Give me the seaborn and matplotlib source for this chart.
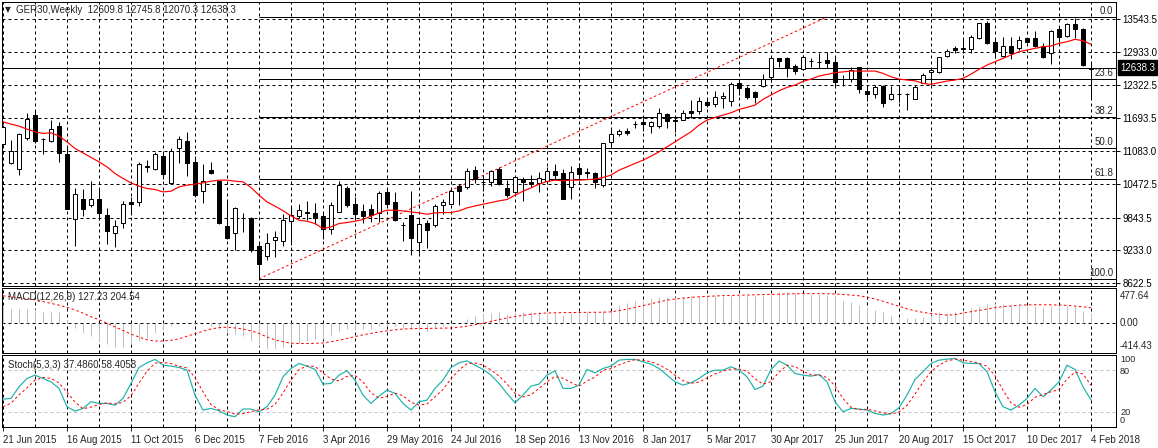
import matplotlib
matplotlib.use("Agg")
import matplotlib.pyplot as plt
import matplotlib.transforms as mtransforms
import numpy as np
import pandas as pd
import seaborn as sns

sns.set_style("white")
plt.rcParams['font.family'] = ['Liberation Sans', 'DejaVu Sans']
plt.rcParams['lines.scale_dashes'] = False
plt.rcParams['font.size'] = 7

# ---------------- data (weekly bars, GER30) ----------------
date_labels = ["21 Jun 2015", "16 Aug 2015", "11 Oct 2015", "6 Dec 2015", "7 Feb 2016",
               "3 Apr 2016", "29 May 2016", "24 Jul 2016", "18 Sep 2016", "13 Nov 2016",
               "8 Jan 2017", "5 Mar 2017", "30 Apr 2017", "25 Jun 2017", "20 Aug 2017",
               "15 Oct 2017", "10 Dec 2017", "4 Feb 2018"]

open_ = [11213, 10865, 10742, 11320, 11754, 11301, 11275, 11549, 11021, 9815,
         10188, 10089, 10188, 9890, 9565, 9740, 10132, 10132, 10813, 10753,
         10990, 10481, 11133, 11270, 10878, 10345, 10729, 10524, 9698, 9565,
         9843, 9847, 9312, 9126, 9437, 9411, 9784, 9884, 9937, 9940,
         9871, 9642, 9952, 10393, 10095, 9965, 10002, 9922, 10319, 10132,
         9704, 9890, 9392, 9754, 9717, 10089, 10108, 10436, 10412, 10729,
         10515, 10511, 10747, 10388, 10324, 10561, 10500, 10492, 10518, 10710,
         10673, 10418, 10761, 10697, 10673, 10444, 11245, 11405, 11461, 11586,
         11618, 11555, 11555, 11767, 11661, 11661, 11829, 11829, 11996, 11953,
         12065, 12009, 12345, 12252, 12177, 12295, 12457, 12811, 12811, 12667,
         12606, 12761, 12748, 12779, 12742, 12425, 12425, 12649, 12201, 12140,
         12300, 12047, 12145, 12151, 12052, 12358, 12550, 12550, 12854, 12997,
         12997, 12979, 13184, 13463, 13109, 12854, 13034, 12997, 13184, 13184,
         13046, 12904, 13352, 13227, 13450, 13357, 12609.8]

high = [11568, 11288, 11419, 11786, 11847, 11325, 11661, 11618, 11163, 10388,
        10369, 10524, 10388, 10026, 9797, 10157, 10220, 10884, 10915, 11070,
        11051, 11145, 11363, 11432, 10990, 10841, 10884, 10543, 10170, 10051,
        9922, 9853, 9392, 9560, 9592, 9909, 10063, 10108, 10151, 10119,
        9952, 10138, 10524, 10431, 10220, 10108, 10095, 10337, 10406, 10313,
        9765, 10337, 9797, 9797, 10095, 10188, 10369, 10462, 10761, 10803,
        10636, 10729, 10779, 10543, 10604, 10593, 10636, 10686, 10790, 10835,
        10742, 10809, 10854, 10761, 10692, 11232, 11506, 11493, 11506, 11648,
        11693, 11648, 11890, 11786, 11722, 11847, 12034, 12084, 12077, 12201,
        12188, 12375, 12388, 12295, 12201, 12518, 12841, 12817, 12830, 12705,
        12867, 12822, 12915, 12934, 12830, 12500, 12654, 12654, 12300, 12313,
        12313, 12300, 12313, 12164, 12313, 12543, 12625, 12836, 12979, 13046,
        13184, 13245, 13475, 13512, 13184, 13214, 13214, 13233, 13194, 13320,
        13091, 13338, 13389, 13475, 13570, 13370, 12745.8]

low = [11176, 10850, 10636, 11288, 11238, 11021, 11245, 10884, 10002, 9318,
       9871, 10045, 9797, 9350, 9300, 9648, 9890, 10058, 10686, 10729,
       10561, 10468, 10865, 10617, 10231, 10126, 10654, 9722, 9456, 9250,
       9579, 9206, 8706, 9064, 9113, 9318, 9344, 9847, 9797, 9735,
       9456, 9549, 9946, 10045, 9829, 9754, 9765, 9765, 10045, 9784,
       9411, 9158, 9187, 9281, 9672, 9909, 10101, 10089, 10369, 10481,
       10343, 10431, 10455, 10231, 10306, 10157, 10418, 10324, 10481, 10561,
       10183, 10183, 10543, 10574, 10388, 10418, 11163, 11363, 11381, 11506,
       11456, 11413, 11506, 11517, 11443, 11655, 11693, 11767, 11898, 11909,
       11879, 11922, 12127, 12052, 11972, 12270, 12375, 12654, 12468, 12518,
       12593, 12654, 12625, 12625, 12282, 12300, 12375, 12170, 12021, 12065,
       11909, 12034, 11991, 11847, 12047, 12345, 12313, 12543, 12830, 12915,
       12915, 12904, 13165, 13078, 12811, 12830, 12792, 12966, 13102, 13027,
       12811, 12705, 13120, 13214, 13184, 12668, 12070.3]

close = [11530, 11089, 11394, 11680, 11275, 11301, 11499, 11040, 10007, 10276,
         10015, 10188, 9922, 9597, 9685, 10108, 10105, 10835, 10794, 11027,
         10660, 11089, 11301, 10854, 10263, 10518, 10679, 9746, 9474, 10033,
         9834, 9238, 8990, 9381, 9486, 9797, 9890, 9978, 9946, 9847,
         9642, 10071, 10449, 10082, 9909, 9871, 9890, 10300, 10095, 9797,
         9704, 9467, 9735, 9616, 10058, 10145, 10337, 10350, 10710, 10556,
         10505, 10710, 10468, 10263, 10593, 10511, 10468, 10574, 10705, 10641,
         10194, 10686, 10649, 10667, 10511, 11227, 11394, 11456, 11413, 11586,
         11592, 11624, 11797, 11648, 11637, 11786, 11797, 12009, 11940, 12095,
         12108, 12326, 12252, 12095, 12084, 12431, 12811, 12766, 12625, 12580,
         12830, 12761, 12748, 12718, 12364, 12425, 12593, 12233, 12140, 12270,
         11983, 12140, 12145, 12140, 12282, 12500, 12593, 12830, 12953, 12966,
         12990, 13202, 13463, 13102, 12953, 13046, 12915, 13152, 13109, 13046,
         12830, 13320, 13214, 13450, 13357, 12686, 12638.3]

ma = [11629, 11586, 11549, 11493, 11443, 11413, 11424, 11363, 11256, 11133,
      11051, 10966, 10884, 10790, 10667, 10574, 10492, 10431, 10388, 10369,
      10324, 10337, 10418, 10449, 10468, 10492, 10524, 10543, 10543, 10524,
      10511, 10406, 10263, 10138, 10058, 9974, 9877, 9797, 9778, 9735,
      9642, 9672, 9735, 9754, 9778, 9810, 9871, 9933, 9983, 9983,
      9970, 9952, 9933, 9909, 9933, 9940, 9940, 9970, 10026, 10063,
      10095, 10127, 10157, 10183, 10263, 10337, 10399, 10468, 10518, 10543,
      10529, 10543, 10543, 10552, 10561, 10593, 10636, 10729, 10790, 10854,
      10915, 10990, 11070, 11163, 11256, 11350, 11443, 11568, 11661, 11711,
      11754, 11797, 11860, 11898, 11940, 12047, 12127, 12207, 12270, 12313,
      12382, 12425, 12481, 12513, 12543, 12559, 12574, 12574, 12574, 12574,
      12531, 12468, 12425, 12407, 12393, 12345, 12326, 12356, 12388, 12407,
      12438, 12518, 12606, 12686, 12748, 12811, 12873, 12934, 12966, 12997,
      13027, 13040, 13091, 13120, 13165, 13139, 13072]

macd_main = [223, 186, 186, 186, 186, 149, 149, 140, 37, -70,
             -140, -186, -256, -302, -335, -335, -302, -256, -209, -140,
             -93, -47, -9, 9, -37, -23, -47, -93, -140, -163,
             -186, -256, -326, -363, -372, -349, -302, -279, -256, -233,
             -233, -177, -130, -93, -93, -84, -84, -47, -47, -47,
             -70, -93, -93, -116, -84, -47, -23, 0, 47, 84,
             116, 126, 140, 116, 140, 140, 140, 140, 126, 126,
             102, 126, 140, 140, 140, 153, 163, 242, 270, 302,
             316, 335, 349, 349, 349, 349, 363, 372, 372, 372,
             372, 372, 372, 372, 372, 381, 395, 419, 409, 405,
             405, 395, 395, 381, 381, 302, 288, 242, 209, 177,
             140, 102, 56, 56, 56, 70, 102, 140, 130, 149,
             172, 200, 223, 256, 270, 256, 242, 233, 223, 223,
             209, 223, 233, 233, 233, 163, 127.23]

macd_signal = [370, 355, 340, 328, 316, 290, 265, 240, 210, 175,
               130, 80, 40, -10, -60, -110, -160, -200, -240, -255,
               -256, -245, -225, -190, -155, -120, -90, -70, -65, -75,
               -90, -115, -150, -200, -240, -265, -285, -290, -290, -288,
               -282, -265, -245, -220, -195, -170, -150, -130, -115, -100,
               -90, -85, -82, -82, -80, -78, -75, -65, -50, -30,
               -10, 15, 40, 65, 85, 100, 115, 125, 132, 135,
               137, 138, 138, 140, 141, 143, 148, 165, 185, 209,
               235, 260, 285, 310, 326, 338, 349, 356, 362, 367,
               372, 375, 378, 381, 384, 386, 390, 393, 396, 398,
               400, 400, 400, 398, 395, 388, 380, 370, 350, 326,
               295, 260, 225, 190, 163, 140, 126, 112, 102, 110,
               130, 150, 168, 186, 205, 220, 230, 240, 244, 246,
               246, 245, 242, 238, 228, 218, 204.54]

stoch_k = [38.7, 39.7, 56, 68, 72.7, 68, 63.3, 53.9, 27.9, 21.7,
           25.5, 35, 32.6, 32.6, 30.2, 39.7, 61, 83.6, 90.2, 95,
           86.9, 85.5, 83.6, 79.8, 44.4, 23.1, 25.5, 22.2, 16.1, 13.7,
           24.6, 24.6, 20.8, 27.9, 44.4, 70.4, 82.2, 89.3, 85.5, 80.8,
           60, 61, 72.7, 78.9, 65.7, 44.4, 32.6, 43, 51.5, 46.8,
           32.6, 23.1, 35, 37.3, 53.9, 65.7, 83.6, 90.2, 93, 86.9,
           80.8, 72.7, 61, 46.8, 33.5, 44.4, 57.2, 60, 72.7, 78.9,
           53.9, 53.9, 58.6, 80.8, 76, 82.2, 85.5, 94, 95, 95,
           91.6, 88.3, 82.2, 72.7, 63.3, 58.6, 61.9, 68, 76, 79.8,
           79.8, 84.6, 79.8, 70.4, 52.4, 57.2, 80.8, 92.6, 86.9, 75.1,
           72.7, 71.3, 73.7, 63.3, 35, 20.8, 25.5, 24.6, 23.1, 18.4,
           16.1, 18.4, 26.5, 44.4, 66.6, 77.5, 89.3, 94, 95.4, 96.4,
           90.2, 89.3, 89.3, 77.5, 49.1, 27.9, 23.1, 30.2, 39.7, 53.9,
           42, 51.5, 63.3, 86.9, 80.8, 56.2, 37.486]

stoch_d = [27.9, 33, 44.7, 54.6, 65.6, 69.6, 68, 61.7, 48.4, 34.5,
           25, 27.4, 31, 33.4, 31.8, 34.2, 43.6, 61.4, 78.3, 89.6,
           90.7, 89.1, 85.3, 83, 69.3, 49.1, 31, 23.6, 21.3, 17.3,
           18.1, 21, 23.3, 24.4, 31, 47.6, 65.7, 80.6, 85.7, 85.2,
           75.4, 67.3, 64.6, 70.9, 72.4, 63, 47.6, 40, 42.4, 47.1,
           43.6, 34.2, 30.2, 31.8, 42, 52.3, 67.7, 79.8, 88.9, 90,
           86.9, 80.1, 71.5, 60.2, 47.1, 41.6, 45, 53.9, 63.3, 70.5,
           68.5, 62.2, 57, 64.4, 70, 79.7, 82, 87.2, 91.5, 94.7,
           93.9, 91.6, 87.4, 81.1, 72.7, 64.9, 61.3, 62.8, 68.6, 74.6,
           78.5, 81.4, 81.4, 78.3, 67.5, 60, 63.5, 76.9, 86.8, 84.9,
           78.2, 73, 72.6, 69.4, 57.3, 39.7, 27.1, 23.6, 24.4, 22,
           19.2, 17.6, 20.3, 29.8, 45.8, 62.8, 77.8, 86.9, 92.9, 95.3,
           94, 92, 89.6, 85.4, 72, 51.5, 33.4, 27.1, 31, 41.3,
           45.2, 49.1, 52.3, 67.2, 77, 74.6, 58.4058]

price_ticks = [8622.5, 9233.0, 9843.5, 10472.5, 11083.0, 11693.5, 12322.5, 12933.0, 13543.5]
bid_price = 12638.3
fib_low, fib_high = 8706, 13581          # anchor prices
fib_low_bar, fib_high_bar = 32, 103      # anchor bars
fib_levels = [0.0, 23.6, 38.2, 50.0, 61.8, 100.0]
header = "GER30,Weekly  12609.8 12745.8 12070.3 12638.3"
macd_title = "MACD(12,26,9) 127.23 204.54"
stoch_title = "Stoch(5,3,3) 37.4860 58.4058"

# ---------------- figure ----------------
n = len(close)
idx = np.arange(n)
df = pd.DataFrame({"i": idx, "open": open_, "high": high, "low": low, "close": close,
                   "ma": ma, "macd": macd_main, "signal": macd_signal,
                   "k": stoch_k, "d": stoch_d})

W, H = 1158, 448
PX = 0.72  # points per pixel at dpi 100
fig = plt.figure(figsize=(W / 100, H / 100), dpi=100, facecolor="white")


def box(x0, y0, x1, y1):
    return [x0 / W, 1 - y1 / H, (x1 - x0) / W, (y1 - y0) / H]


ax1 = fig.add_axes(box(2, 2, 1116, 286))
ax2 = fig.add_axes(box(2, 288, 1116, 352.5))
ax3 = fig.add_axes(box(2, 354.5, 1116, 426.5))

xmin, xmax = (2 - 3) / 8, (1116 - 3) / 8
DASH = (0, (3 * PX, 3 * PX))
GRID = dict(color="black", lw=PX, ls=DASH, zorder=0.5)

for ax in (ax1, ax2, ax3):
    ax.set_xlim(xmin, xmax)
    ax.set_facecolor("white")
    for s in ax.spines.values():
        s.set_color("black")
        s.set_linewidth(PX)
    for k in range(0, n, 4):
        ax.axvline(k, **GRID)
    ax.tick_params(axis="x", which="both", bottom=False, labelbottom=False, top=False)
    ax.yaxis.tick_right()
    ax.tick_params(axis="y", direction="out", length=3, width=PX, pad=1.5,
                   labelsize=7, colors="black")


def rlabel(ax, y, s, dy_px=0, size=7, **kw):
    tr = mtransforms.blended_transform_factory(ax.transAxes, ax.transData) + \
        mtransforms.ScaledTranslation(4 / 100, dy_px / 100, fig.dpi_scale_trans)
    return ax.text(1.0, y, s, transform=tr, ha="left", va="center", fontsize=size, **kw)


# ---- price panel ----
ax1.set_ylim(8572, 13860)
ax1.set_yticks(price_ticks)
ax1.set_yticklabels([f"{v:.1f}" for v in price_ticks])
for v in price_ticks:
    ax1.axhline(v, **GRID)

ax1.axhline(bid_price, color="black", lw=PX, zorder=1)

up = df["close"] >= df["open"]
ax1.vlines(df["i"], df["low"], df["high"], color="black", lw=PX, zorder=2)
bb = np.minimum(df["open"], df["close"])
bh = (df["close"] - df["open"]).abs()
ax1.bar(df["i"][up], bh[up], bottom=bb[up], width=0.5, facecolor="white",
        edgecolor="black", linewidth=PX, zorder=3)
ax1.bar(df["i"][~up], bh[~up], bottom=bb[~up], width=0.5, facecolor="black",
        edgecolor="black", linewidth=PX, zorder=3)

sns.lineplot(data=df, x="i", y="ma", ax=ax1, color="red", lw=PX * 1.2, zorder=4)

# fibonacci retracement
rng = fib_high - fib_low
for lev in fib_levels:
    yv = fib_high - rng * lev / 100
    ax1.hlines(yv, fib_low_bar, xmax, color="black", lw=PX, zorder=1.5)
    tr = mtransforms.blended_transform_factory(ax1.transAxes, ax1.transData) + \
        mtransforms.ScaledTranslation(-3 / 100, 1 / 100, fig.dpi_scale_trans)
    ax1.text(1.0, yv, f"{lev:.1f}", transform=tr, ha="right", va="bottom",
             fontsize=7, color="#222222", zorder=6)
ax1.plot([fib_low_bar, fib_high_bar], [fib_low, fib_high], color="red", lw=PX,
         ls=(0, (2.5 * PX, 2.5 * PX)), zorder=1.6)

# bid label
rlabel(ax1, bid_price, f"{bid_price:.1f}", color="white",
       bbox=dict(boxstyle="square,pad=0.25", facecolor="black", edgecolor="black"))

fig.text(5 / W, 1 - 10 / H, "\u25BC", fontsize=5.5, va="center", ha="left",
         family=["DejaVu Sans"])
fig.text(16 / W, 1 - 10 / H, header, fontsize=7, va="center", ha="left")

# ---- MACD panel ----
ax2.set_ylim(-414.43, 477.64)
ax2.set_yticks([])
ax2.axhline(0, **GRID)
ax2.vlines(df["i"], 0, df["macd"], color="#c0c0c0", lw=PX, zorder=2)
sns.lineplot(data=df, x="i", y="signal", ax=ax2, color="red", lw=PX, zorder=3)
ax2.lines[-1].set_linestyle((0, (2.5 * PX, 2.5 * PX)))
rlabel(ax2, 477.64, "477.64", dy_px=-8)
rlabel(ax2, 0, "0.00")
rlabel(ax2, -414.43, "-414.43", dy_px=6.5)
ax2.text(6 / 1114, 1 - 9 / 64.5, macd_title, transform=ax2.transAxes, fontsize=7,
         va="center", ha="left", zorder=6)

# ---- Stochastic panel ----
ax3.set_ylim(-0.15, 102)
ax3.set_yticks([])
for lv in (80, 20):
    ax3.axhline(lv, color="#c0c0c0", lw=PX, ls=DASH, zorder=1)
sns.lineplot(data=df, x="i", y="k", ax=ax3, color="#20b2aa", lw=PX * 1.2, zorder=3)
sns.lineplot(data=df, x="i", y="d", ax=ax3, color="red", lw=PX, zorder=3)
ax3.lines[-1].set_linestyle((0, (2.5 * PX, 2.5 * PX)))
rlabel(ax3, 100, "100", dy_px=-3.5, size=6.6)
rlabel(ax3, 80, "80", dy_px=-1.5, size=6.6)
rlabel(ax3, 20, "20", size=6.6)
rlabel(ax3, 0, "0", dy_px=6, size=6.6)
ax3.text(6 / 1114, 1 - 10 / 72, stoch_title, transform=ax3.transAxes, fontsize=7,
         va="center", ha="left", zorder=6)

ax3.set_xticks(range(0, n, 8))
ax3.set_xticklabels(date_labels)
ax3.tick_params(axis="x", bottom=True, labelbottom=True, direction="out",
                length=3, width=PX, pad=3, labelsize=7)
for lab in ax3.get_xticklabels():
    lab.set_horizontalalignment("left")

for ax in (ax1, ax2, ax3):
    ax.set_xlabel("")
    ax.set_ylabel("")
    leg = ax.get_legend()
    if leg:
        leg.remove()

fig.savefig("out.png", dpi=100, facecolor="white")
